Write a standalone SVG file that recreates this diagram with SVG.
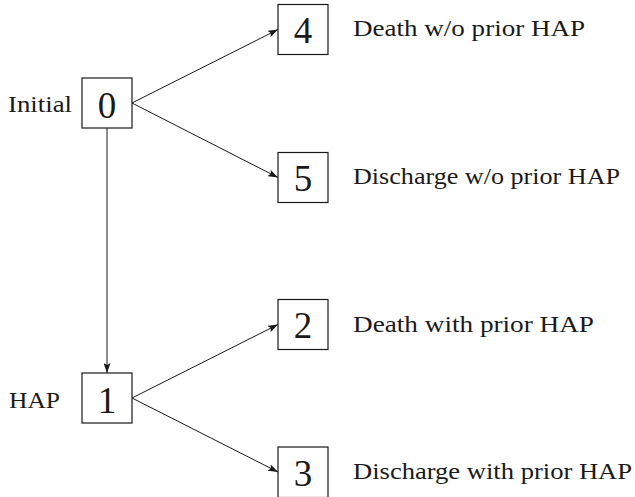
<svg xmlns="http://www.w3.org/2000/svg" width="635" height="497" viewBox="0 0 635 497">
  <style>
    .box { fill: #ffffff; stroke: #1a1a1a; stroke-width: 1.2; }
    .num { font-family: "Liberation Serif", "Times New Roman", serif; font-size: 37px; fill: #1a1a1a; text-anchor: middle; }
    .lbl { font-family: "Liberation Serif", "Times New Roman", serif; font-size: 24px; fill: #1a1a1a; }
    .edge { fill: none; stroke: #1a1a1a; stroke-width: 1; marker-end: url(#arrow); }
  </style>
  <defs>
    <marker id="arrow" viewBox="0 0 10 7" refX="10" refY="3.5" markerUnits="userSpaceOnUse" markerWidth="10" markerHeight="7" orient="auto">
      <path d="M0,0 L10,3.5 L0,7 L2,3.5 z" fill="#1a1a1a"/>
    </marker>
  </defs>
  <rect width="635" height="497" fill="#ffffff"/>

  <g id="connectors">
    <line class="edge" x1="132" y1="103" x2="278" y2="29.5"/>
    <line class="edge" x1="132" y1="103" x2="278" y2="177.5"/>
    <line class="edge" x1="107" y1="128" x2="107" y2="373"/>
    <line class="edge" x1="132" y1="398" x2="278" y2="324.5"/>
    <line class="edge" x1="132" y1="398" x2="278" y2="472"/>
  </g>

  <g id="node0">
    <rect class="box" x="82" y="78" width="50" height="50"/>
    <text class="num" x="107" y="118">0</text>
    <text class="lbl" x="8" y="111.5" textLength="64" lengthAdjust="spacingAndGlyphs">Initial</text>
  </g>
  <g id="node4">
    <rect class="box" x="278" y="4.5" width="50" height="50"/>
    <text class="num" x="303" y="43">4</text>
    <text class="lbl" x="353" y="36" textLength="232" lengthAdjust="spacingAndGlyphs">Death w/o prior HAP</text>
  </g>
  <g id="node5">
    <rect class="box" x="278" y="152.5" width="50" height="50"/>
    <text class="num" x="303" y="191">5</text>
    <text class="lbl" x="353" y="184" textLength="267" lengthAdjust="spacingAndGlyphs">Discharge w/o prior HAP</text>
  </g>
  <g id="node1">
    <rect class="box" x="82" y="373" width="50" height="50"/>
    <text class="num" x="107" y="413">1</text>
    <text class="lbl" x="9" y="408" textLength="51" lengthAdjust="spacingAndGlyphs">HAP</text>
  </g>
  <g id="node2">
    <rect class="box" x="278" y="299.5" width="50" height="50"/>
    <text class="num" x="303" y="338">2</text>
    <text class="lbl" x="353" y="332" textLength="241" lengthAdjust="spacingAndGlyphs">Death with prior HAP</text>
  </g>
  <g id="node3">
    <rect class="box" x="278" y="447" width="50" height="50.5"/>
    <text class="num" x="303" y="486">3</text>
    <text class="lbl" x="353" y="479" textLength="279" lengthAdjust="spacingAndGlyphs">Discharge with prior HAP</text>
  </g>
</svg>
